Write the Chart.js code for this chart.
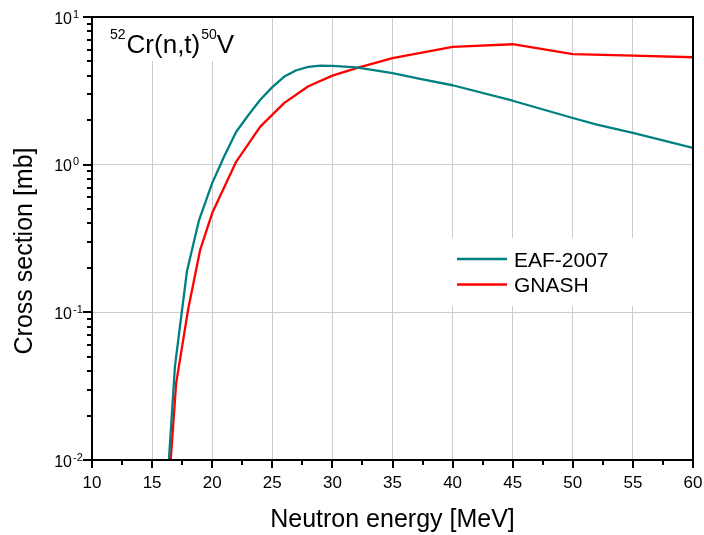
<!DOCTYPE html>
<html>
<head>
<meta charset="utf-8">
<script src="https://cdn.jsdelivr.net/npm/chart.js@4.4.1/dist/chart.umd.min.js"></script>
<style>
html, body { margin: 0; padding: 0; background: #fff; }
</style>
</head>
<body>
<canvas id="xs" width="704" height="535"></canvas>
<script>
var FONT = "'Liberation Sans', Arial, sans-serif";

// 52Cr(n,t)50V excitation functions, cross section in mb
var energyEaf = [16.4, 16.9, 17.9, 18.9, 20, 21, 22, 23, 24, 25, 26, 27, 28, 29, 30, 32, 35, 37.5, 40, 45, 50, 52, 55, 60];
var xsEaf = [0.01, 0.043, 0.19, 0.42, 0.75, 1.14, 1.67, 2.16, 2.75, 3.35, 3.95, 4.36, 4.6, 4.69, 4.67, 4.56, 4.17, 3.78, 3.45, 2.71, 2.07, 1.87, 1.64, 1.30];

var energyGnash = [16.55, 17, 18, 19, 20, 22, 24, 26, 28, 30, 32, 35, 40, 45, 50, 55, 60];
var xsGnash = [0.01, 0.033, 0.105, 0.265, 0.47, 1.05, 1.81, 2.62, 3.40, 4.01, 4.5, 5.26, 6.27, 6.54, 5.6, 5.48, 5.34];

var seriesNames = ['EAF-2007', 'GNASH'];
var seriesColors = ['#008080', '#ff0000'];

// axis ranges and tick labels
var xMin = 10, xMax = 60, xStep = 5;
var decades = [-2, -1, 0, 1];

function points(xv, yv) {
	return xv.map(function(x, i) { return { x: x, y: yv[i] }; });
}

function isDecade(v) {
	var l = Math.log10(v);
	return Math.abs(l - Math.round(l)) < 1e-6;
}

// frame, tick marks, y labels, titles and legend
var decor = {
	id: 'decor',
	afterDraw: function(chart) {
		var ctx = chart.ctx, a = chart.chartArea;
		var xs = chart.scales.x, ys = chart.scales.y;
		ctx.save();

		ctx.strokeStyle = '#000';
		ctx.lineWidth = 2;
		ctx.strokeRect(a.left, a.top, a.right - a.left, a.bottom - a.top);

		ctx.beginPath();
		for (var v = xMin; v <= xMax + 1e-9; v += xStep / 2) {
			var px = Math.round(xs.getPixelForValue(v));
			var len = (v % xStep === 0) ? 8 : 5;
			ctx.moveTo(px, a.bottom);
			ctx.lineTo(px, a.bottom + len);
		}
		decades.forEach(function(k) {
			for (var m = 1; m <= 9; m++) {
				var val = m * Math.pow(10, k);
				if (val > ys.max * 1.0001) break;
				var py = Math.round(ys.getPixelForValue(val));
				var len = m === 1 ? 9 : 5;
				ctx.moveTo(a.left - len, py);
				ctx.lineTo(a.left, py);
			}
		});
		ctx.stroke();

		// y tick labels 10^k
		ctx.fillStyle = '#000';
		decades.forEach(function(k) {
			var py = ys.getPixelForValue(Math.pow(10, k));
			ctx.font = '16px ' + FONT;
			ctx.textAlign = 'right';
			ctx.textBaseline = 'alphabetic';
			ctx.fillText('10', a.left - 20, py + 6.5);
			ctx.font = '11px ' + FONT;
			ctx.textAlign = 'left';
			ctx.fillText(String(k), a.left - 19, py + 0.5);
		});

		// reaction label
		ctx.fillStyle = '#fff';
		ctx.fillRect(a.left + 2, a.top + 1, 158, 43);
		ctx.fillStyle = '#000';
		ctx.textAlign = 'left';
		var x = 110;
		ctx.font = '14px ' + FONT;
		ctx.fillText('52', x, 38.5);
		x += ctx.measureText('52').width + 1;
		ctx.font = '26px ' + FONT;
		ctx.fillText('Cr(n,t)', x, 52.5);
		x += ctx.measureText('Cr(n,t)').width + 1;
		ctx.font = '14px ' + FONT;
		ctx.fillText('50', x, 38.5);
		x += ctx.measureText('50').width;
		ctx.font = '26px ' + FONT;
		ctx.fillText('V', x, 52.5);

		// legend
		ctx.fillStyle = '#fff';
		ctx.fillRect(446, 238, 194, 68);
		ctx.lineWidth = 2.5;
		ctx.font = '21px ' + FONT;
		seriesNames.forEach(function(name, i) {
			var ly = 259 + i * 25.5;
			ctx.strokeStyle = seriesColors[i];
			ctx.beginPath();
			ctx.moveTo(457, ly);
			ctx.lineTo(507, ly);
			ctx.stroke();
			ctx.fillStyle = '#000';
			ctx.fillText(name, 514, ly + 7.5);
		});

		// axis titles
		ctx.font = '25px ' + FONT;
		ctx.textAlign = 'center';
		ctx.fillText('Neutron energy [MeV]', (a.left + a.right) / 2, 527);
		ctx.translate(31.5, 251);
		ctx.rotate(-Math.PI / 2);
		ctx.fillText('Cross section [mb]', 0, 0);
		ctx.restore();
	}
};

var config = {
	type: 'line',
	data: {
		datasets: [
			{
				label: seriesNames[0],
				data: points(energyEaf, xsEaf),
				borderColor: seriesColors[0],
				borderWidth: 2.3,
				pointRadius: 0,
				tension: 0,
				fill: false,
				borderJoinStyle: 'round'
			},
			{
				label: seriesNames[1],
				data: points(energyGnash, xsGnash),
				borderColor: seriesColors[1],
				borderWidth: 2.3,
				pointRadius: 0,
				tension: 0,
				fill: false,
				borderJoinStyle: 'round'
			}
		]
	},
	options: {
		responsive: false,
		animation: false,
		devicePixelRatio: 1,
		layout: { padding: { top: 17, right: 11, left: 0, bottom: 0 } },
		plugins: {
			legend: { display: false },
			tooltip: { enabled: false }
		},
		scales: {
			x: {
				type: 'linear',
				min: xMin,
				max: xMax,
				afterFit: function(s) {
					s.height = 75;
					s.paddingLeft = 0;
					s.paddingRight = 0;
				},
				ticks: {
					stepSize: xStep,
					color: '#000',
					font: { family: FONT, size: 17 },
					padding: 13,
					maxRotation: 0
				},
				grid: { color: '#cccccc', lineWidth: 1, drawTicks: false },
				border: { color: '#000', width: 2 }
			},
			y: {
				type: 'logarithmic',
				min: 0.01,
				max: 10,
				afterFit: function(s) {
					s.width = 92;
					s.paddingTop = 0;
					s.paddingBottom = 0;
				},
				ticks: { display: false },
				grid: {
					color: function(c) { return c.tick && isDecade(c.tick.value) ? '#cccccc' : 'rgba(0,0,0,0)'; },
					lineWidth: 1,
					drawTicks: false
				},
				border: { color: '#000', width: 2 }
			}
		}
	},
	plugins: [decor]
};

window.onload = function() {
	var ctx = document.getElementById('xs').getContext('2d');
	window.xsChart = new Chart(ctx, config);
};
</script>
</body>
</html>
